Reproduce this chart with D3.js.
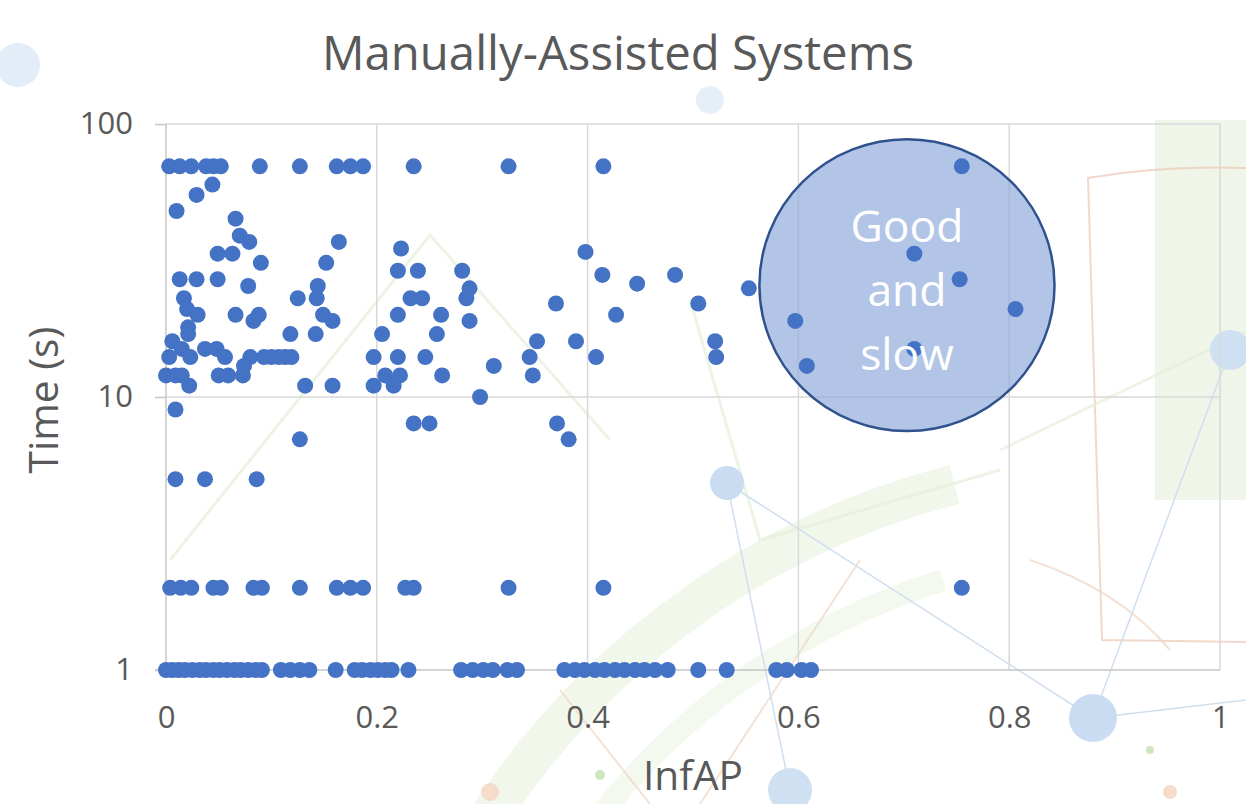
<!DOCTYPE html>
<html>
<head>
<meta charset="utf-8">
<script src="https://cdn.jsdelivr.net/npm/d3@7"></script>
<style>
  body { margin: 0; background: #fff; }
  svg { display: block; }
</style>
</head>
<body>
<svg id="chart" width="1246" height="804"></svg>
<script>
// ---- data ----
var chartTitle = "Manually-Assisted Systems"
var xLabel = "InfAP"
var yLabel = "Time (s)"
var noteLines = ["Good", "and", "slow"]

var xTicks = [0, 0.2, 0.4, 0.6, 0.8, 1]
var yTicks = [1, 10, 100]

// time (s) levels, and the InfAP values found on each level
var timeLevels = [70, 60, 55, 48, 45, 39, 37, 35, 34, 33.5, 31, 29, 28, 27, 26, 25.5, 25,
  23, 22, 21, 20, 19, 18, 17, 16, 15, 14, 13, 12, 11, 10, 9, 8, 7, 5, 2, 1]

var infapAtLevel = [
  [0.003, 0.013, 0.024, 0.038, 0.045, 0.052, 0.089, 0.127, 0.162, 0.175, 0.187, 0.235, 0.325, 0.415, 0.755],
  [0.044],
  [0.029],
  [0.010],
  [0.066],
  [0.070],
  [0.079, 0.164],
  [0.223],
  [0.398],
  [0.049, 0.063, 0.710],
  [0.090, 0.152],
  [0.220, 0.239, 0.281],
  [0.414, 0.483],
  [0.013, 0.029, 0.049, 0.753],
  [0.447],
  [0.078, 0.144],
  [0.288, 0.553],
  [0.017, 0.125, 0.143, 0.232, 0.243, 0.285],
  [0.370, 0.505],
  [0.020, 0.806],
  [0.030, 0.066, 0.088, 0.149, 0.220, 0.261, 0.427],
  [0.083, 0.158, 0.288, 0.597],
  [0.021],
  [0.021, 0.118, 0.142, 0.205, 0.257],
  [0.006, 0.352, 0.389, 0.521],
  [0.015, 0.037, 0.048, 0.710],
  [0.003, 0.023, 0.056, 0.080, 0.093, 0.100, 0.107, 0.113, 0.119, 0.197, 0.220, 0.246, 0.345, 0.408, 0.522],
  [0.074, 0.311, 0.608],
  [0.000, 0.009, 0.015, 0.050, 0.059, 0.073, 0.208, 0.222, 0.262, 0.348],
  [0.022, 0.132, 0.158, 0.197, 0.216],
  [0.298],
  [0.009],
  [0.235, 0.250, 0.371],
  [0.127, 0.382],
  [0.009, 0.037, 0.086],
  [0.004, 0.014, 0.024, 0.045, 0.052, 0.083, 0.091, 0.127, 0.162, 0.175, 0.187, 0.227, 0.235, 0.325, 0.415, 0.755],
  [0.000, 0.006, 0.012, 0.018, 0.025, 0.032, 0.038, 0.045, 0.051, 0.058, 0.065, 0.071, 0.078, 0.085, 0.091,
   0.109, 0.118, 0.127, 0.136, 0.161, 0.179, 0.186, 0.194, 0.201, 0.208, 0.214, 0.230,
   0.280, 0.291, 0.301, 0.310, 0.324, 0.333, 0.378, 0.388, 0.397, 0.407, 0.416, 0.426, 0.435,
   0.445, 0.454, 0.464, 0.476, 0.505, 0.532, 0.579, 0.589, 0.603, 0.612]
]

// the "good and slow" region, in data units
var noteInfap = [0.563, 0.843]
var noteTime = [7.5, 88]

// ---- drawing ----
var points = []
timeLevels.forEach(function(t, i) {
  infapAtLevel[i].forEach(function(v) { points.push({infap: v, time: t}) })
})

var svg = d3.select("#chart"),
    width = +svg.attr("width"),
    height = +svg.attr("height"),
    margin = {top: 124, right: 26, bottom: 134, left: 166}

var textCol = "#595959",
    font = "'Open Sans', sans-serif"

var x = d3.scaleLinear().domain([0, 1]).range([margin.left, width - margin.right])
var y = d3.scaleLog().domain([1, 100]).range([height - margin.bottom, margin.top])

// faint decorative background, like the slide behind the chart
var bg = svg.append("g").attr("class", "bg")
bg.append("rect").attr("x", 1155).attr("y", 120).attr("width", 91).attr("height", 380)
  .attr("fill", "#e4efda").attr("opacity", 0.6)
bg.append("path").attr("d", d3.arc()({innerRadius: 770, outerRadius: 810, startAngle: -1.95, endAngle: -0.25}))
  .attr("transform", "translate(1150,1250)").attr("fill", "#e3efd8").attr("opacity", 0.5)
bg.append("path").attr("d", d3.arc()({innerRadius: 690, outerRadius: 712, startAngle: -1.9, endAngle: -0.3}))
  .attr("transform", "translate(1150,1250)").attr("fill", "#e9f3e2").attr("opacity", 0.5)
bg.append("path").attr("d", "M1246,168 Q1160,165 1088,178 L1102,640 L1246,642")
  .attr("fill", "none").attr("stroke", "#ecc7b4").attr("stroke-width", 2).attr("opacity", 0.7)
bg.append("path").attr("d", "M560,690 L650,804 M700,804 L860,560 M1030,560 Q1120,590 1170,650")
  .attr("fill", "none").attr("stroke", "#f0d4c4").attr("stroke-width", 2).attr("opacity", 0.7)
bg.append("path").attr("d", "M170,560 L430,235 L610,440 M690,300 L760,540 L1000,470 M1250,330 L1000,450")
  .attr("fill", "none").attr("stroke", "#e6f0dc").attr("stroke-width", 3).attr("opacity", 0.7)
bg.append("path").attr("d", "M727,483 L1093,718 M727,483 L790,790 M1230,350 L1093,718 M1093,718 L1246,700")
  .attr("fill", "none").attr("stroke", "#cfdff0").attr("stroke-width", 1.5)
var bubbles = [[18, 65, 22, "#e3edf7"], [710, 100, 14, "#e6eff8"], [727, 483, 17, "#c9dcf1"],
  [1230, 350, 20, "#cfe0f2"], [1093, 718, 24, "#c9dcf1"], [790, 790, 22, "#cfe0f2"],
  [490, 792, 9, "#f6dccb"], [1170, 792, 7, "#f6dccb"], [600, 775, 5, "#cfe6bf"], [1150, 750, 4, "#cfe6bf"]]
bg.selectAll("circle").data(bubbles).enter().append("circle")
  .attr("cx", function(d) { return d[0] }).attr("cy", function(d) { return d[1] })
  .attr("r", function(d) { return d[2] }).attr("fill", function(d) { return d[3] })

// gridlines
var grid = svg.append("g").attr("class", "grid")
grid.selectAll(".vg").data(xTicks.slice(1)).enter().append("line")
  .attr("x1", function(d) { return x(d) }).attr("x2", function(d) { return x(d) })
  .attr("y1", y(100)).attr("y2", y(1))
  .attr("stroke", "#d9d9d9").attr("stroke-width", 1.5)
grid.selectAll(".hg").data(yTicks.slice(1)).enter().append("line")
  .attr("x1", x(0)).attr("x2", x(1))
  .attr("y1", function(d) { return y(d) }).attr("y2", function(d) { return y(d) })
  .attr("stroke", "#d9d9d9").attr("stroke-width", 1.5)

// axes
var yAxis = svg.append("g")
  .attr("transform", "translate(" + x(0) + ",0)")
  .call(d3.axisLeft(y).tickValues(yTicks).tickFormat(d3.format("d")).tickSize(11).tickPadding(22))
var xAxis = svg.append("g")
  .attr("transform", "translate(0," + y(1) + ")")
  .call(d3.axisBottom(x).tickValues(xTicks).tickFormat(function(d) { return d3.format("")(d) })
    .tickSize(0).tickPadding(36))

;[xAxis, yAxis].forEach(function(a) {
  a.select(".domain").attr("stroke", "#c6c6c6").attr("stroke-width", 1.5)
  a.selectAll(".tick line").attr("stroke", "#c6c6c6").attr("stroke-width", 1.5)
  a.selectAll("text").attr("fill", textCol).attr("font-family", font).attr("font-size", 31)
})
yAxis.select(".domain").attr("d", "M0," + y(100) + "V" + y(1))
xAxis.select(".domain").attr("d", "M" + (x(0) - 11) + ",0H" + x(1))

// annotation region (behind the points)
var note = svg.append("g")
note.append("ellipse")
  .attr("cx", x(d3.mean(noteInfap)))
  .attr("cy", (y(noteTime[0]) + y(noteTime[1])) / 2)
  .attr("rx", (x(noteInfap[1]) - x(noteInfap[0])) / 2)
  .attr("ry", (y(noteTime[0]) - y(noteTime[1])) / 2)
  .attr("fill", "#8eaadb").attr("fill-opacity", 0.68)
  .attr("stroke", "#2f528f").attr("stroke-width", 2.5)

// points
svg.append("g").selectAll("circle")
  .data(points)
  .enter().append("circle")
    .attr("cx", function(d) { return x(d.infap) })
    .attr("cy", function(d) { return y(d.time) })
    .attr("r", 8)
    .attr("fill", "#4472c4")

// scale a text so its width matches the picture
function fitWidth(sel, w) {
  var len = sel.node().getComputedTextLength()
  sel.attr("font-size", +sel.attr("font-size") * w / len)
  return +sel.attr("font-size")
}

// note text
var cx = x(d3.mean(noteInfap))
var noteText = svg.append("g")
var lines = noteText.selectAll("text").data(noteLines).enter().append("text")
  .attr("x", cx)
  .attr("y", function(d, i) { return 242 + i * 64 })
  .attr("text-anchor", "middle")
  .attr("fill", "#ffffff")
  .attr("font-family", font)
  .attr("font-size", 46)
  .text(function(d) { return d })
var fs = fitWidth(d3.select(lines.nodes()[0]), 113)
lines.attr("font-size", fs)

// titles
var title = svg.append("text")
  .attr("x", (x(0) + x(1)) / 2 - 75).attr("y", 70)
  .attr("text-anchor", "middle")
  .attr("fill", textCol).attr("font-family", font).attr("font-size", 48)
  .text(chartTitle)
fitWidth(title, 592)

var xt = svg.append("text")
  .attr("x", (x(0) + x(1)) / 2).attr("y", 790)
  .attr("text-anchor", "middle")
  .attr("fill", textCol).attr("font-family", font).attr("font-size", 40)
  .text(xLabel)
fitWidth(xt, 100)

var yt = svg.append("text")
  .attr("transform", "translate(58," + (y(10) + 3) + ") rotate(-90)")
  .attr("text-anchor", "middle")
  .attr("fill", textCol).attr("font-family", font).attr("font-size", 40)
  .text(yLabel)
fitWidth(yt, 147)
</script>
</body>
</html>
